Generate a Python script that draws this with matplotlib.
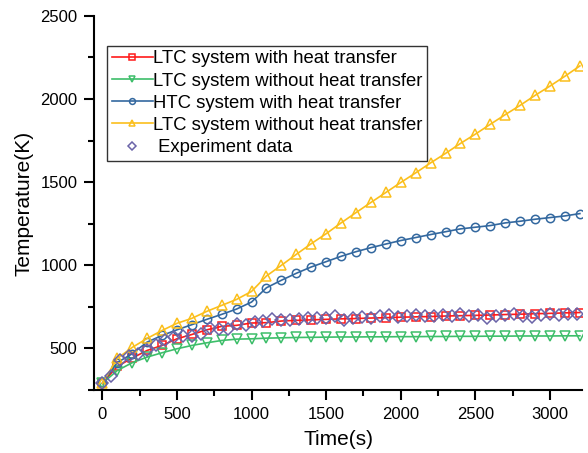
import matplotlib
matplotlib.use("Agg")
import matplotlib.pyplot as plt
from matplotlib.ticker import MultipleLocator

plt.rcParams['font.family'] = ['Liberation Sans', 'DejaVu Sans']

# simulation output every 100 s
time_sim = list(range(0, 3300, 100))
ltc_with = [290, 392, 442, 488, 518, 558, 584, 612, 633, 639,
            653, 655, 665, 669, 672, 675, 678, 680, 683, 685,
            688, 690, 692, 695, 697, 699, 701, 704, 706, 709,
            711, 714, 716]
ltc_without = [290, 367, 414, 448, 474, 498, 518, 534, 548, 556,
               558, 562, 564, 566, 567, 568, 569, 569, 570, 570,
               571, 571, 572, 572, 573, 573, 574, 574, 575, 575,
               575, 576, 576]
htc_with = [290, 415, 468, 538, 578, 612, 643, 675, 705, 737,
            779, 865, 910, 952, 990, 1022, 1054, 1082, 1106, 1128,
            1149, 1167, 1185, 1202, 1219, 1229, 1239, 1255, 1265, 1277,
            1287, 1297, 1311]
ltc_without_2 = [290, 440, 506, 560, 608, 651, 681, 723, 759, 795,
                 843, 936, 1000, 1066, 1130, 1190, 1255, 1317, 1378, 1438,
                 1498, 1556, 1616, 1673, 1733, 1789, 1848, 1906, 1962, 2022,
                 2078, 2137, 2199]

# experiment sampled every 60 s
time_exp = list(range(0, 3240, 60))
exp_data = [290, 337, 428, 452, 468, 492, 522, 548, 568, 572,
            572, 588, 624, 616, 618, 648, 639, 658, 665, 679,
            673, 669, 679, 683, 685, 683, 693, 669, 685, 689,
            685, 693, 703, 689, 693, 699, 695, 693, 703, 693,
            709, 695, 703, 685, 695, 699, 709, 695, 689, 703,
            709, 699, 709, 705]

fig = plt.figure(figsize=(5.88, 4.53), dpi=100)
ax = fig.add_axes([0.160, 0.139, 0.830, 0.826])

ax.plot(time_sim, ltc_with, color='#FF1A1A', lw=1.2, marker='s', ms=6,
        mfc='none', mew=1.1, label='LTC system with heat transfer')
ax.plot(time_sim, ltc_without, color='#3DBE6A', lw=1.2, marker='v', ms=7,
        mfc='none', mew=1.1, label='LTC system without heat transfer')
ax.plot(time_sim, htc_with, color='#33689F', lw=1.2, marker='o', ms=6,
        mfc='none', mew=1.1, label='HTC system with heat transfer')
ax.plot(time_sim, ltc_without_2, color='#FBBF1C', lw=1.2, marker='^', ms=7,
        mfc='none', mew=1.1, label='LTC system without heat transfer')
ax.plot(time_exp, exp_data, ls='none', color='#6A64A8', marker='D', ms=6,
        mfc='none', mew=1.1, label=' Experiment data')

ax.set_xlim(-55, 3215)
ax.set_ylim(250, 2500)
ax.xaxis.set_major_locator(MultipleLocator(500))
ax.xaxis.set_minor_locator(MultipleLocator(250))
ax.yaxis.set_major_locator(MultipleLocator(500))
ax.yaxis.set_minor_locator(MultipleLocator(250))

for side in ['top', 'right']:
    ax.spines[side].set_visible(False)
for side in ['left', 'bottom']:
    ax.spines[side].set_linewidth(1.5)

ax.tick_params(which='major', direction='out', length=7, width=1.5,
               labelsize=12, colors='black', pad=5)
ax.tick_params(which='minor', direction='out', length=4, width=1.5)

ax.set_xlabel('Time(s)', fontsize=15, labelpad=6)
ax.set_ylabel('Temperature(K)', fontsize=15, labelpad=5)

leg = ax.legend(loc='upper left', bbox_to_anchor=(0.027, 0.92),
                borderaxespad=0, fontsize=13.3, frameon=True, fancybox=False,
                labelspacing=0.28, handlelength=2.2, handletextpad=0.05,
                borderpad=0.25, markerscale=0.7)
leg.get_frame().set_edgecolor('black')
leg.get_frame().set_linewidth(1.0)

fig.savefig('out.png', dpi=100)
